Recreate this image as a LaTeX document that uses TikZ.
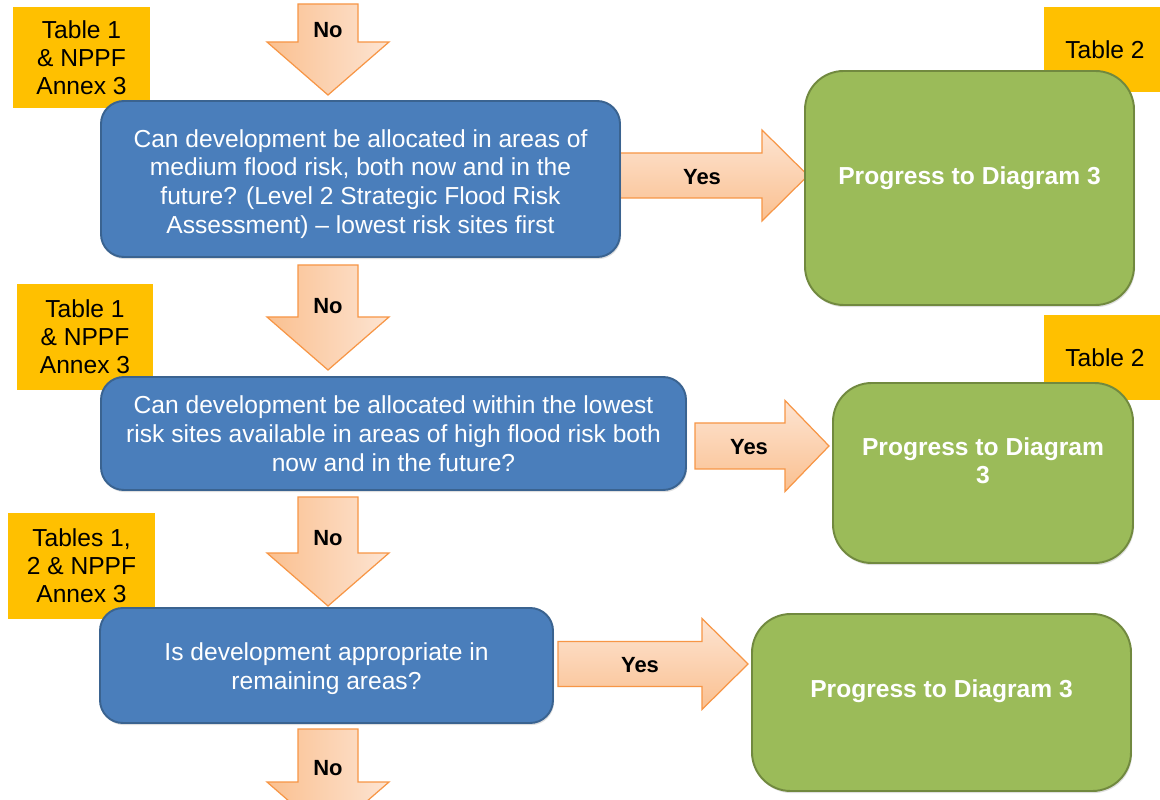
\documentclass[tikz,border=0pt]{standalone}
\usepackage{fontspec}
\setmainfont{Liberation Sans}
\usetikzlibrary{fit,shadows}
\definecolor{qblue}{HTML}{4A7EBB}
\definecolor{qblueb}{HTML}{3A6390}
\definecolor{qgreen}{HTML}{9BBB59}
\definecolor{qgreenb}{HTML}{71893F}
\definecolor{qyellow}{HTML}{FFC000}
\definecolor{qorangeb}{HTML}{F79646}
\definecolor{qorangel}{HTML}{FDE4D2}
\definecolor{qoranged}{HTML}{FAC090}
\newcommand\qdown[4]{% center x, shaft top, head base, tip
  \draw[darr] (#1-30,#2) -- (#1+30,#2) -- (#1+30,#3) -- (#1+61,#3) -- (#1,#4)
    -- (#1-61,#3) -- (#1-30,#3) -- cycle;}
\newcommand\qright[6]{% tail x, head base x, tip x, centre y, half shaft, half head
  \draw[rarr] (#1,#4-#5) -- (#2,#4-#5) -- (#2,#4-#6) -- (#3,#4) -- (#2,#4+#6)
    -- (#2,#4+#5) -- (#1,#4+#5) -- cycle;}
\begin{document}
\begin{tikzpicture}[x=0.02cm,y=-0.02cm,
  ybox/.style={fill=qyellow, inner sep=0pt},
  ytxt/.style={text=black, align=center, inner sep=0pt, font=\fontsize{14}{15.9}\selectfont},
  bbox/.style={draw=qblueb, line width=1.1pt, fill=qblue, rounded corners=13pt,
    inner sep=0pt,
    drop shadow={shadow xshift=0.6pt, shadow yshift=-1.2pt, opacity=0.25}},
  btxt/.style={text=white, align=center, inner sep=0pt, font=\fontsize{14}{16.4}\selectfont},
  gbox/.style={draw=qgreenb, line width=1.1pt, fill=qgreen, rounded corners=22pt,
    inner sep=0pt,
    drop shadow={shadow xshift=0.6pt, shadow yshift=-1.2pt, opacity=0.25}},
  gtxt/.style={text=white, align=center, inner sep=0pt, font=\bfseries\fontsize{14}{15.9}\selectfont},
  arrlbl/.style={text=black, font=\bfseries\fontsize{12.5}{14}\selectfont},
  darr/.style={draw=qorangeb, line width=0.7pt, left color=qoranged, right color=qorangel},
  rarr/.style={draw=qorangeb, line width=0.7pt, top color=qorangel, bottom color=qoranged},
]
\clip (0,0) rectangle (1160,800);
\fill[white] (0,0) rectangle (1160,800);

% corner coordinates
\coordinate (y1a) at (13,7);    \coordinate (y1b) at (150,108);
\coordinate (y2a) at (1044,7);  \coordinate (y2b) at (1166,92);
\coordinate (y3a) at (17,284);  \coordinate (y3b) at (153,390);
\coordinate (y4a) at (1044,315);\coordinate (y4b) at (1166,400);
\coordinate (y5a) at (8,513);   \coordinate (y5b) at (155,619);
\coordinate (b1a) at (101,101); \coordinate (b1b) at (620,257);
\coordinate (b2a) at (101,377); \coordinate (b2b) at (686,490);
\coordinate (b3a) at (100,608); \coordinate (b3b) at (553,723);
\coordinate (g1a) at (805,71);  \coordinate (g1b) at (1134,305);
\coordinate (g2a) at (833,383); \coordinate (g2b) at (1133,563);
\coordinate (g3a) at (752,614); \coordinate (g3b) at (1131,791);

% yellow reference tags
\node[ybox, fit=(y1a)(y1b)] (y1) {};
\node[ytxt] (y1t) at (y1.center) {Table 1\\\& NPPF\\Annex 3};
\node[ybox, fit=(y2a)(y2b)] (y2) {};
\node[ytxt] (y2t) at (y2.center) {Table 2};
\node[ybox, fit=(y3a)(y3b)] (y3) {};
\node[ytxt] (y3t) at (y3.center) {Table 1\\\& NPPF\\Annex 3};
\node[ybox, fit=(y4a)(y4b)] (y4) {};
\node[ytxt] (y4t) at (y4.center) {Table 2};
\node[ybox, fit=(y5a)(y5b)] (y5) {};
\node[ytxt] (y5t) at (y5.center) {Tables 1,\\2 \& NPPF\\Annex 3};

% block arrows
\qdown{328}{4}{42}{95}
\node[arrlbl] (no1) at (328,30) {No};
\qdown{328}{265}{317}{370}
\node[arrlbl] (no2) at (328,306) {No};
\qdown{328}{497}{553}{606}
\node[arrlbl] (no3) at (328,538) {No};
\qdown{328}{729}{782}{835}
\node[arrlbl] (no4) at (328,768) {No};

\qright{619}{762}{808}{175.5}{22.5}{45.5}
\node[arrlbl] (yes1) at (702,177) {Yes};
\qright{695}{785}{829}{446}{23}{45.5}
\node[arrlbl] (yes2) at (749,447) {Yes};
\qright{558}{702}{748}{664}{22.5}{45.5}
\node[arrlbl] (yes3) at (640,665) {Yes};

% question boxes
\node[bbox, fit=(b1a)(b1b)] (b1) {};
\node[btxt, yshift=-2.8pt] (b1t) at (b1.center) {Can development be allocated in areas of\\medium flood risk, both now and in the\\future? (Level 2 Strategic Flood Risk\\Assessment) -- lowest risk sites first};
\node[bbox, fit=(b2a)(b2b)] (b2) {};
\node[btxt] (b2t) at (b2.center) {Can development be allocated within the lowest\\risk sites available in areas of high flood risk both\\now and in the future?};
\node[bbox, fit=(b3a)(b3b)] (b3) {};
\node[btxt, yshift=-1.7pt] (b3t) at (b3.center) {Is development appropriate in\\remaining areas?};

% outcome boxes
\node[gbox, fit=(g1a)(g1b)] (g1) {};
\node[gtxt] (g1t) at (969.5,178.5) {Progress to Diagram 3};
\node[gbox, fit=(g2a)(g2b)] (g2) {};
\node[gtxt] (g2t) at (983,461) {Progress to Diagram\\3};
\node[gbox, fit=(g3a)(g3b)] (g3) {};
\node[gtxt] (g3t) at (941.5,691) {Progress to Diagram 3};
\end{tikzpicture}
\end{document}
